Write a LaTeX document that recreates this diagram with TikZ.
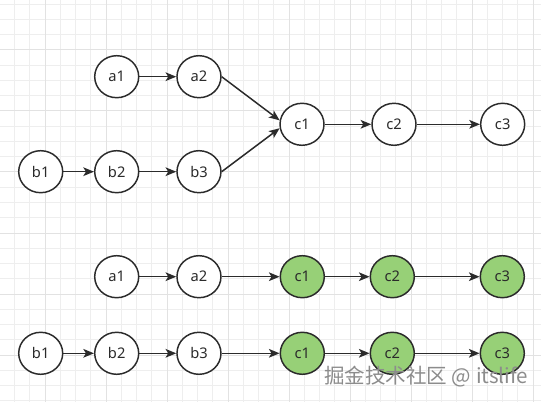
\documentclass[tikz,border=0pt]{standalone}
\usepackage{fontspec}
\setmainfont{Noto Sans}
\newfontfamily\cjkfont{Noto Sans CJK SC}
\usetikzlibrary{automata}
\usetikzlibrary{positioning}
\usetikzlibrary{shapes.geometric}
\usetikzlibrary{arrows.meta}
\definecolor{linegray}{HTML}{2B2B2B}
\definecolor{nodegreen}{HTML}{97D077}
\definecolor{gridminor}{HTML}{EEEEEE}
\definecolor{gridmajor}{HTML}{E2E2E2}
\begin{document}
\begin{tikzpicture}[x=0.75pt,y=-0.75pt,->,>={Stealth[length=8pt,width=6.5pt,inset=2pt]},
					line width=1.1pt,color=linegray,on grid,
					font=\fontsize{11}{13}\selectfont]
					\tikzstyle{every state}=[ellipse,draw=linegray,fill=white,line width=1.1pt,
					minimum width=33pt,minimum height=31.5pt,inner sep=0pt]
					\tikzstyle{done}=[fill=nodegreen]
					
					% background grid
					\useasboundingbox (0,0) rectangle (541,402);
					\fill[-,white] (0,0) rectangle (541,402);
					\foreach \i in {0,...,36}
					\draw[-,gridminor,line width=0.75pt] ({-0.75+15.25*\i},0) -- ({-0.75+15.25*\i},402);
					\foreach \i in {0,...,26}
					\draw[-,gridminor,line width=0.75pt] (0,{4.25+15.25*\i}) -- (541,{4.25+15.25*\i});
					\foreach \i in {3,7,...,35}
					\draw[-,gridmajor,line width=0.75pt] ({-0.75+15.25*\i},0) -- ({-0.75+15.25*\i},402);
					\foreach \i in {3,7,...,23}
					\draw[-,gridmajor,line width=0.75pt] (0,{4.25+15.25*\i}) -- (541,{4.25+15.25*\i});
					
					% two branches before the merge
					\node[state]         (a1) at (116.7,76.7)         {a1};
					\node[state]         (a2) [right=61.7pt of a1]    {a2};
					\node[state]         (b1) at (40.7,171.7)         {b1};
					\node[state]         (b2) [right=57pt of b1]      {b2};
					\node[state]         (b3) [right=61.7pt of b2]    {b3};
					\node[state]         (c1) at (302,124.3)          {c1};
					\node[state]         (c2) [right=69pt of c1]      {c2};
					\node[state]         (c3) [right=81.5pt of c2]    {c3};
					
					% after the merge
					\node[state]         (ma1) at (116.7,276.7)       {a1};
					\node[state]         (ma2) [right=61.7pt of ma1]  {a2};
					\node[state,done]    (mc1) [right=77.5pt of ma2]  {c1};
					\node[state,done]    (mc2) [right=67.5pt of mc1]  {c2};
					\node[state,done]    (mc3) [right=82.5pt of mc2]  {c3};
					\node[state]         (mb1) at (40.7,353.3)        {b1};
					\node[state]         (mb2) [right=57pt of mb1]    {b2};
					\node[state]         (mb3) [right=61.7pt of mb2]  {b3};
					\node[state,done]    (nc1) [right=77.5pt of mb3]  {c1};
					\node[state,done]    (nc2) [right=67.5pt of nc1]  {c2};
					\node[state,done]    (nc3) [right=82.5pt of nc2]  {c3};
					
					\path (a1) edge (a2)
					(a2.east) edge (c1.170)
					(b1) edge (b2)
					(b2) edge (b3)
					(b3.east) edge (c1.190)
					(c1) edge (c2)
					(c2) edge (c3)
					
					(ma1) edge (ma2)
					(ma2) edge (mc1)
					(mc1) edge (mc2)
					(mc2) edge (mc3)
					(mb1) edge (mb2)
					(mb2) edge (mb3)
					(mb3) edge (nc1)
					(nc1) edge (nc2)
					(nc2) edge (nc3)
					;
					
					\node[anchor=west,text=black!45,font=\cjkfont\fontsize{15.4}{18}\selectfont]
					(mark) at (319,377) {掘金技术社区 @ itslife};
\end{tikzpicture}
\end{document}
